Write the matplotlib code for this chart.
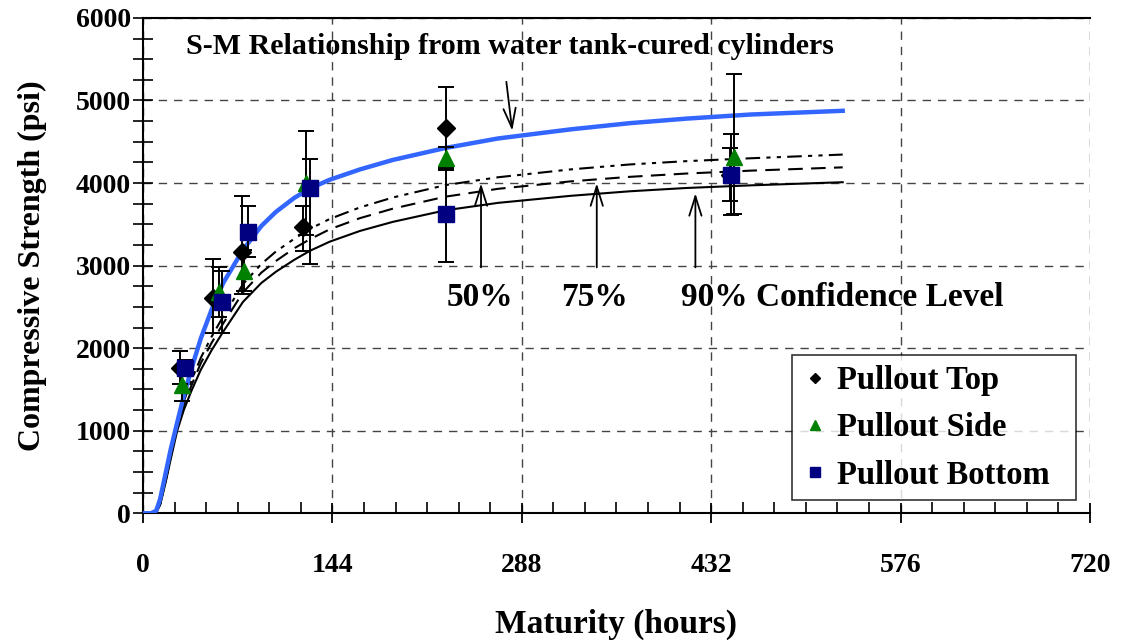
import matplotlib
matplotlib.use('Agg')
import matplotlib.pyplot as plt
import numpy as np
from matplotlib.ticker import MultipleLocator

# measured points (maturity hours, strength psi)
top_x = [28, 53, 75, 122, 230, 446]
top_y = [1760, 2610, 3160, 3470, 4670, 4100]
top_lo = [200, 430, 500, 290, 490, 320]
top_hi = [200, 470, 680, 250, 490, 320]

side_x = [30, 58, 77, 124, 230, 449]
side_y = [1550, 2680, 2940, 4000, 4300, 4310]
side_lo = [190, 300, 250, 630, 140, 690]
side_hi = [190, 300, 250, 630, 140, 1010]

bot_x = [32, 60, 80, 127, 230, 447]
bot_y = [1760, 2560, 3410, 3940, 3620, 4100]
bot_lo = [95, 380, 310, 920, 580, 490]
bot_hi = [95, 380, 310, 350, 580, 490]

# S-M curves
m_hours = [0, 6, 10, 13, 17, 21, 26, 31, 37, 44, 52, 61, 76, 90, 101, 115, 127,
           142, 165, 190, 230, 270, 325, 370, 413, 462, 532]
sm_tank = [0, 0, 30, 170, 470, 770, 1100, 1420, 1760, 2120, 2460, 2790, 3190, 3480,
           3650, 3820, 3935, 4040, 4165, 4280, 4425, 4540, 4650, 4725, 4780, 4830, 4875]
sm_50 = [0, 0, 5, 110, 390, 705, 1085, 1355, 1615, 1885, 2135, 2385, 2775, 3020,
         3170, 3325, 3445, 3565, 3705, 3825, 3975, 4070, 4165, 4225, 4265, 4300, 4345]
sm_75 = [0, 0, 5, 105, 375, 680, 1045, 1305, 1555, 1820, 2060, 2300, 2675, 2915,
         3055, 3210, 3320, 3440, 3575, 3690, 3835, 3930, 4020, 4075, 4115, 4150, 4190]
sm_90 = [0, 0, 5, 100, 360, 650, 1000, 1250, 1490, 1740, 1970, 2200, 2560, 2790,
         2925, 3070, 3180, 3290, 3420, 3530, 3670, 3760, 3845, 3900, 3940, 3972, 4010]

plt.rcParams['font.family'] = ['Liberation Serif', 'DejaVu Serif']
plt.rcParams['font.weight'] = 'bold'
plt.rcParams['axes.labelweight'] = 'bold'

fig = plt.figure(figsize=(11.26, 6.4), dpi=100)
ax = fig.add_axes([0.127, 0.198, 0.841, 0.774])

ax.plot(m_hours, sm_90, color='black', lw=1.5, zorder=3)
ax.plot(m_hours, sm_75, color='black', lw=1.5, ls=(0, (7, 4)), zorder=3)
ax.plot(m_hours, sm_50, color='black', lw=1.5, ls=(0, (7, 3, 2, 3, 2, 3)), zorder=3)
ax.plot(m_hours, sm_tank, color='#3366ff', lw=3.2, zorder=4)

eb = dict(fmt='none', ecolor='black', elinewidth=1.4, capsize=6, capthick=1.4, zorder=5)
ax.errorbar(top_x, top_y, yerr=[top_lo, top_hi], **eb)
ax.errorbar(side_x, side_y, yerr=[side_lo, side_hi], **eb)
ax.errorbar(bot_x, bot_y, yerr=[bot_lo, bot_hi], **eb)

ax.plot(top_x, top_y, 'D', color='black', ms=9, ls='none', zorder=6, label='Pullout Top')
ax.plot(side_x, side_y, '^', color='#008000', ms=12, ls='none', zorder=7, label='Pullout Side')
ax.plot(bot_x, bot_y, 's', color='#000080', ms=11, ls='none', zorder=8, label='Pullout Bottom')

ax.set_xlim(0, 720)
ax.set_ylim(0, 6000)
ax.xaxis.set_major_locator(MultipleLocator(144))
ax.xaxis.set_minor_locator(MultipleLocator(24))
ax.yaxis.set_major_locator(MultipleLocator(1000))
ax.yaxis.set_minor_locator(MultipleLocator(250))
ax.tick_params(axis='x', which='major', direction='inout', length=15, width=1.3,
               labelsize=20, pad=21)
ax.tick_params(axis='x', which='minor', direction='in', length=8, width=1.2)
ax.tick_params(axis='y', which='both', direction='inout', length=15, width=1.2,
               labelsize=20, pad=1)

ax.grid(True, which='major', color='#444444', ls=(0, (6, 5)), lw=1.0)
ax.spines['right'].set_visible(False)
for s in ['left', 'bottom', 'top']:
    ax.spines[s].set_linewidth(1.5)

ax.set_xlabel('Maturity (hours)', fontsize=24, labelpad=22)
ax.set_ylabel('Compressive Strength (psi)', fontsize=23, labelpad=21)

ax.text(33, 5650, 'S-M Relationship from water tank-cured cylinders', fontsize=21.6,
        fontweight='bold', va='center', ha='left')
arrow = dict(arrowstyle='->,head_length=0.7,head_width=0.22', color='black', lw=1.3,
             mutation_scale=20)
ax.annotate('', xy=(281, 4600), xytext=(276, 5260), arrowprops=arrow)

for lx, hy in [(257, 4030), (345, 4030), (420, 3910)]:
    ax.annotate('', xy=(lx, hy), xytext=(lx, 2945), arrowprops=arrow)
ax.text(256, 2610, '50%', fontsize=24, ha='center', va='center')
ax.text(343, 2610, '75%', fontsize=24, ha='center', va='center')
ax.text(409, 2610, '90% Confidence Level', fontsize=24, ha='left', va='center')

leg = ax.legend(loc='lower left', bbox_to_anchor=(0.685, 0.026, 0.3, 0.303),
                mode='expand', fontsize=23.5, frameon=True, fancybox=False,
                markerscale=0.6, handlelength=0.8, handletextpad=0.3,
                labelspacing=0.5, borderpad=0.3, borderaxespad=0)
leg.get_frame().set_edgecolor('black')
leg.get_frame().set_linewidth(1.2)

fig.savefig('out.png', dpi=100)
